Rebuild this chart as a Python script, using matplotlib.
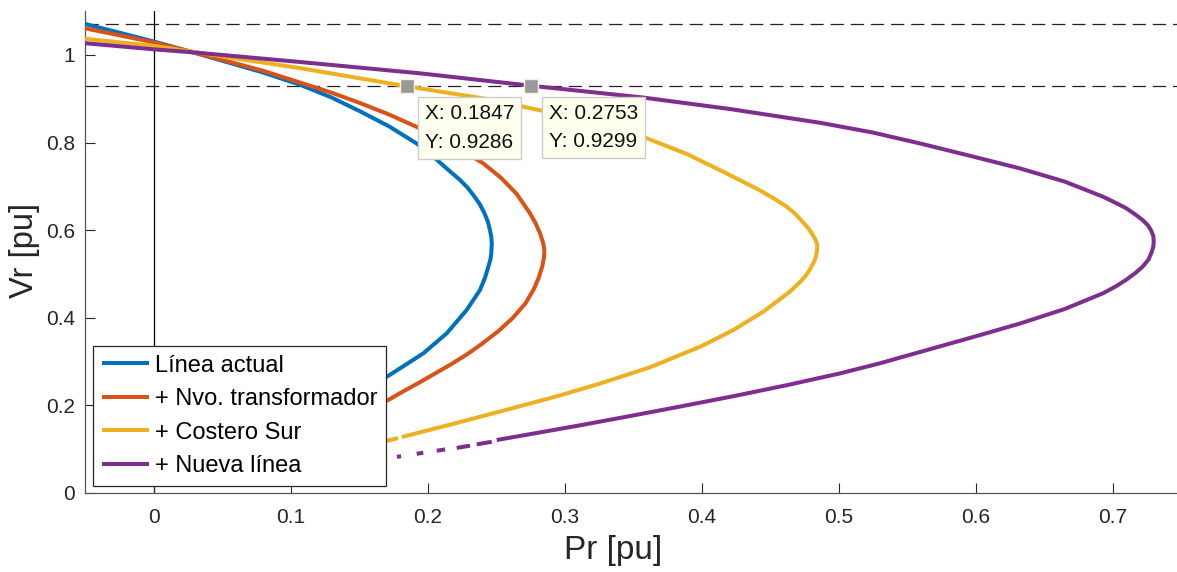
import numpy as np
import matplotlib
matplotlib.use("Agg")
import matplotlib.pyplot as plt

plt.rcParams['font.family'] = ['Liberation Sans', 'DejaVu Sans']
plt.rcParams['lines.scale_dashes'] = False

nan = np.nan

# ---- data ----
P_linea = [-0.050, 0.000, 0.029, 0.050, 0.080, 0.107, 0.130, 0.151, 0.172, 0.192, 0.2015, 0.211,
           0.2237, 0.2290, 0.2335, 0.2380, 0.2415, 0.2440, 0.2456, 0.2465, 0.2469, 0.2465, 0.2458,
           0.2444, 0.2420, 0.2383, 0.2286, 0.214, 0.197, 0.180, 0.1726, 0.150, 0.130]
V_linea = [1.071, 1.031, 1.006, 0.987, 0.960, 0.932, 0.903, 0.871, 0.837, 0.798, 0.7755, 0.749,
           0.7146, 0.698, 0.680, 0.660, 0.639, 0.620, 0.600, 0.585, 0.570, 0.545, 0.532,
           0.517, 0.492, 0.4635, 0.418, 0.3646, 0.319, 0.2847, 0.270, 0.228, 0.195]

P_trafo = [-0.050, 0.000, 0.029, 0.050, 0.080, 0.107, 0.130, 0.151, 0.172, 0.192, 0.2165, 0.2405,
           0.2535, 0.265, 0.2748, 0.2790, 0.2822, 0.2843, 0.2853, 0.2850, 0.2838, 0.2812, 0.2775,
           0.2715, 0.262, 0.2515, 0.239, 0.2286, 0.2164, 0.197, 0.180, 0.1726, 0.150, 0.130]
V_trafo = [1.061, 1.029, 1.006, 0.989, 0.964, 0.937, 0.914, 0.890, 0.864, 0.836, 0.798, 0.753,
           0.720, 0.683, 0.6385, 0.615, 0.592, 0.572, 0.555, 0.538, 0.518, 0.492, 0.465,
           0.433, 0.399, 0.369, 0.339, 0.316, 0.2925, 0.2575, 0.228, 0.2145, 0.180, 0.150]

P_costero = [-0.050, 0.000, 0.029, 0.060, 0.107, 0.1847, 0.2405, 0.282, 0.320, 0.360, 0.390, 0.418,
             0.442, 0.4525, 0.462, 0.4685, 0.4735, 0.4778, 0.481, 0.4832, 0.4845, 0.4843, 0.4835,
             0.4817, 0.4790, 0.4760, 0.4720, 0.4646, 0.4451, 0.4232, 0.399, 0.3624, 0.3259, 0.297,
             0.2529, 0.2164, 0.1812, nan, 0.1785, 0.150]
V_costero = [1.037, 1.021, 1.007, 0.992, 0.970, 0.9286, 0.901, 0.874, 0.845, 0.810, 0.773, 0.730,
             0.692, 0.673, 0.654, 0.637, 0.620, 0.605, 0.590, 0.578, 0.566, 0.553, 0.540,
             0.525, 0.510, 0.496, 0.482, 0.460, 0.414, 0.372, 0.334, 0.287, 0.250, 0.223,
             0.186, 0.156, 0.1278, nan, 0.1255, 0.103]

P_nueva = [-0.050, 0.000, 0.029, 0.107, 0.195, 0.2753, 0.357, 0.420, 0.487, 0.525, 0.5595, 0.597,
           0.6325, 0.665, 0.693, 0.7025, 0.710, 0.7165, 0.722, 0.7258, 0.728, 0.7297, 0.730,
           0.7297, 0.7285, 0.7262, 0.722, 0.7165, 0.710, 0.7025, 0.693, 0.665, 0.6325, 0.597,
           0.5595, 0.530, 0.501, 0.462, 0.4232, 0.387, 0.350, 0.313, 0.277, 0.2505, nan,
           0.2469, 0.2359, nan, 0.2310, 0.2213, nan, 0.2128, 0.2067, nan, 0.1969, 0.1921, nan,
           0.1807, 0.1777]
V_nueva = [1.027, 1.013, 1.006, 0.984, 0.958, 0.9299, 0.903, 0.877, 0.845, 0.823, 0.798, 0.769,
           0.741, 0.711, 0.6765, 0.662, 0.650, 0.636, 0.623, 0.611, 0.600, 0.587, 0.574,
           0.562, 0.550, 0.533, 0.517, 0.502, 0.487, 0.472, 0.456, 0.420, 0.387, 0.355,
           0.322, 0.296, 0.273, 0.246, 0.221, 0.199, 0.177, 0.1555, 0.1355, 0.121, nan,
           0.117, 0.111, nan, 0.108, 0.103, nan, 0.0995, 0.0965, nan, 0.092, 0.0895, nan,
           0.084, 0.0825]

labels = ['Línea actual', '+ Nvo. transformador', '+ Costero Sur', '+ Nueva línea']
colors = ['#0072BD', '#D95319', '#EDB120', '#7E2F8E']

v_limits = [1.07, 0.93]
tip_P = [0.1847, 0.2753]
tip_V = [0.9286, 0.9299]

x_ticks = [0, 0.1, 0.2, 0.3, 0.4, 0.5, 0.6, 0.7]
x_ticklabels = ['0', '0.1', '0.2', '0.3', '0.4', '0.5', '0.6', '0.7']
y_ticks = [0, 0.2, 0.4, 0.6, 0.8, 1.0]
y_ticklabels = ['0', '0.2', '0.4', '0.6', '0.8', '1']

# ---- figure ----
W, H = 1177, 572
fig = plt.figure(figsize=(W / 100, H / 100), dpi=100)
ax_l, ax_b, ax_r, ax_t = 85, 493, 1177, 11.2
ax = fig.add_axes([ax_l / W, 1 - ax_b / H, (ax_r - ax_l) / W, (ax_b - ax_t) / H])

ax.plot([0, 0], [0, 1.1], color='black', lw=0.9, zorder=1)

series = [(P_linea, V_linea), (P_trafo, V_trafo), (P_costero, V_costero), (P_nueva, V_nueva)]
handles = []
for (P, V), lab, c in zip(series, labels, colors):
    h, = ax.plot(P, V, color=c, lw=2.9, label=lab, solid_capstyle='butt',
                 solid_joinstyle='round', zorder=3)
    handles.append(h)

for v in v_limits:
    ax.axhline(v, color='#222222', lw=0.9, dashes=(9.5, 5), zorder=2)

ax.set_xlim(-0.05, 0.747)
ax.set_ylim(0, 1.1)
ax.set_xticks(x_ticks)
ax.set_xticklabels(x_ticklabels)
ax.set_yticks(y_ticks)
ax.set_yticklabels(y_ticklabels)
ax.tick_params(direction='in', length=7, width=0.8, colors='#262626', labelsize=15,
               labelcolor='#262626')
ax.tick_params(axis='x', pad=11)
ax.tick_params(axis='y', pad=7)
for s in ['top', 'right']:
    ax.spines[s].set_visible(False)
for s in ['left', 'bottom']:
    ax.spines[s].set_color('#555555')
    ax.spines[s].set_linewidth(0.9)

ax.set_xlabel('Pr [pu]', fontsize=24, color='#262626')
ax.set_ylabel('Vr [pu]', fontsize=23.5, color='#262626')
ax.xaxis.set_label_coords((613 - ax_l) / (ax_r - ax_l), (ax_b - 551) / (ax_b - ax_t), transform=ax.transAxes)
ax.xaxis.label.set_va('center')
ax.yaxis.set_label_coords((25 - ax_l) / (ax_r - ax_l), (ax_b - 250) / (ax_b - ax_t), transform=ax.transAxes)
ax.yaxis.label.set_va('center')

# data tips
ax.plot(tip_P, tip_V, linestyle='none', marker='s', markersize=10, color='#999999',
        markeredgecolor='#F4F4DC', markeredgewidth=1.0, zorder=5)
for p, v in zip(tip_P, tip_V):
    ax.annotate(f'X: {p:.4f}\nY: {v:.4f}', xy=(p, v), xytext=(13.0, -13.0), textcoords='offset points',
                ha='left', va='top', fontsize=15, color='#111111', linespacing=1.62,
                bbox=dict(boxstyle='square,pad=0.34', facecolor='#FFFFEE', edgecolor='#CCCCCC', lw=1.0),
                zorder=6)

leg = ax.legend(handles=handles, loc='lower left',
                bbox_to_anchor=((93 - ax_l) / (ax_r - ax_l), (ax_b - 486) / (ax_b - ax_t)),
                borderaxespad=0, fontsize=17, handlelength=2.0, handletextpad=0.25,
                labelspacing=0.49, borderpad=0.37, fancybox=False, framealpha=1,
                edgecolor='#262626', facecolor='white')
leg.get_frame().set_linewidth(0.9)
leg.set_zorder(10)

fig.savefig('out.png', dpi=100)
